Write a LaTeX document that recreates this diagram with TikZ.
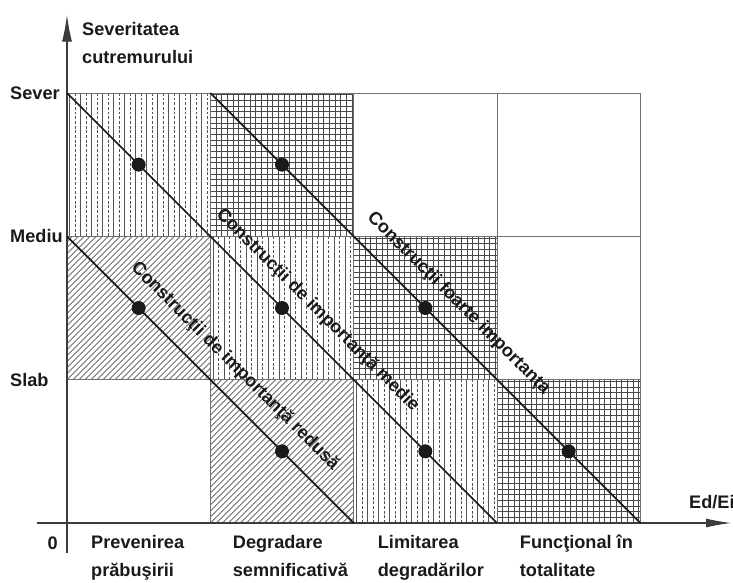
\documentclass[tikz,border=0pt]{standalone}
\usepackage{fontspec}
\setmainfont{Liberation Sans}
\usetikzlibrary{arrows.meta,positioning,calc}
\definecolor{ink}{HTML}{1A1A1A}
\definecolor{gridgray}{HTML}{707070}
\tikzset{
  axisline/.style={draw=ink!85,line width=0.9pt},
  cellline/.style={draw=gridgray,line width=0.6pt},
  hatch/.style={draw=ink!75,line width=0.55pt},
  dashhatch/.style={draw=ink!75,line width=0.55pt,dash pattern=on 2.5pt off 1.5pt},
  gridhatch/.style={draw=ink!80,line width=0.7pt},
  diagline/.style={draw=ink,line width=1.5pt},
  dot/.style={circle,fill=ink,inner sep=0pt,minimum size=4.2mm},
  lbl/.style={font=\bfseries\fontsize{15.5}{24}\selectfont,text=ink,inner sep=0pt},
  diaglbl/.style={lbl,rotate=-45}
}
% cell fillings, #1,#2 = lower left corner
\newcommand{\vertcell}[2]{%
  \begin{scope}
    \clip (#1,#2) rectangle ++(4.3,4.3);
    \foreach \k in {0,...,13}{
      \draw[hatch] ({#1+0.08+0.33*\k},#2) -- ++(0,4.3);
      \draw[dashhatch] ({#1+0.245+0.33*\k},#2) -- ++(0,4.3);
    }
  \end{scope}}
\newcommand{\gridcell}[2]{%
  \begin{scope}
    \clip (#1,#2) rectangle ++(4.3,4.3);
    \foreach \k in {0,...,26}{
      \draw[gridhatch] ({#1+0.17*\k},#2) -- ++(0,4.3);
      \draw[gridhatch] (#1,{#2+0.17*\k}) -- ++(4.3,0);
    }
  \end{scope}}
\newcommand{\slashcell}[2]{%
  \begin{scope}
    \clip (#1,#2) rectangle ++(4.3,4.3);
    \foreach \k in {-25,...,25}{
      \draw[hatch] ({#1+0.18*\k},#2) -- ++(4.3,4.3);
    }
  \end{scope}}

\begin{document}
\begin{tikzpicture}[x=1cm,y=1cm]
  \useasboundingbox (-2.01,-1.8) rectangle (19.98,15.69);

  % hatched cells
  \vertcell{0}{8.6}
  \gridcell{4.3}{8.6}
  \slashcell{0}{4.3}
  \vertcell{4.3}{4.3}
  \gridcell{8.6}{4.3}
  \slashcell{4.3}{0}
  \vertcell{8.6}{0}
  \gridcell{12.9}{0}

  % cell borders
  \foreach \i in {0,...,4}
    \draw[cellline] ({4.3*\i},0) -- ({4.3*\i},12.9);
  \foreach \j in {1,2,3}
    \draw[cellline] (0,{4.3*\j}) -- (17.2,{4.3*\j});

  % axes
  \draw[axisline,-{Latex[length=8mm,width=3mm]}] (0,-0.9) -- (0,15.24);
  \draw[axisline,-{Latex[length=7.5mm,width=2.7mm]}] (-0.9,0) -- (19.92,0);

  \node[lbl,anchor=north west,align=left] (ytitle) at (0.45,15.03)
    {Severitatea\\cutremurului};
  \node[lbl,anchor=west] (sever) at (-1.71,12.9) {Sever};
  \node[lbl,anchor=west] (mediu) at (-1.71,8.6) {Mediu};
  \node[lbl,anchor=west] (slab) at (-1.71,4.3) {Slab};
  \node[lbl] (zero) at (-0.43,-0.6) {0};
  \node[lbl,anchor=west] (xtitle) at (18.66,0.63) {Ed/Ei};

  \node[lbl,anchor=north west,align=left] (c1) at (0.72,-0.36)
    {Prevenirea\\prăbuşirii};
  \node[lbl,anchor=north west,align=left] (c2) at (4.97,-0.36)
    {Degradare\\semnificativă};
  \node[lbl,anchor=north west,align=left] (c3) at (9.32,-0.36)
    {Limitarea\\degradărilor};
  \node[lbl,anchor=north west,align=left] (c4) at (13.58,-0.36)
    {Funcţional în\\totalitate};

  % importance lines
  \coordinate (a1) at (0,8.6);   \coordinate (a2) at (8.6,0);
  \coordinate (b1) at (0,12.9);  \coordinate (b2) at (12.9,0);
  \coordinate (f1) at (4.3,12.9); \coordinate (f2) at (17.2,0);

  \draw[diagline] (a1) -- (a2)
    node[dot,pos=0.25] (da1) {} node[dot,pos=0.75] (da2) {};
  \draw[diagline] (b1) -- (b2)
    node[dot,pos=1/6] (db1) {} node[dot,pos=0.5] (db2) {}
    node[dot,pos=5/6] (db3) {};
  \draw[diagline] (f1) -- (f2)
    node[dot,pos=1/6] (df1) {} node[dot,pos=0.5] (df2) {}
    node[dot,pos=5/6] (df3) {};

  \node[diaglbl] (la) at ($(a1)!0.52!(a2)+(0.57,0.57)$)
    {Construcţii de importanţă redusă};
  \node[diaglbl] (lb) at ($(b1)!0.544!(b2)+(0.5,0.5)$)
    {Construcţii de importanţă medie};
  \node[diaglbl] (lf) at ($(f1)!0.533!(f2)+(0.57,0.57)$)
    {Construcţii foarte importanţa};
\end{tikzpicture}
\end{document}
